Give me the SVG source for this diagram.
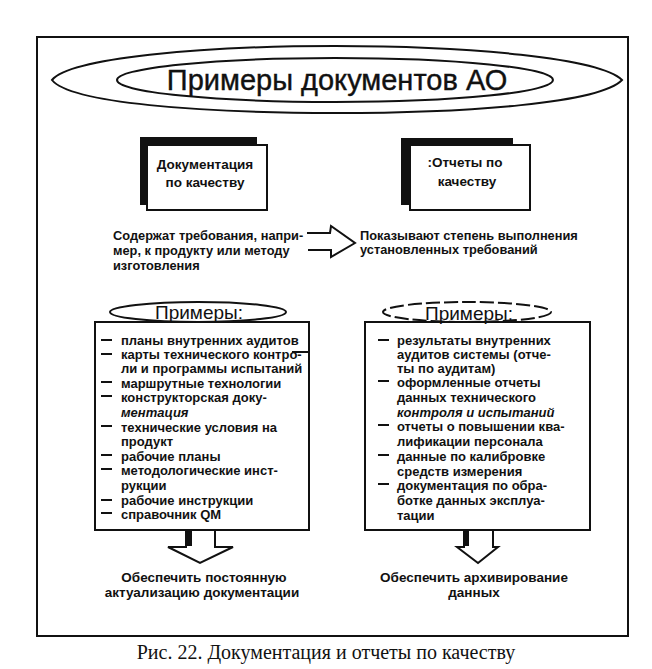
<svg xmlns="http://www.w3.org/2000/svg" width="652" height="669" viewBox="0 0 652 669">
<style>
.t{font-family:"Liberation Sans",Arial,sans-serif;font-weight:bold;font-size:13px;fill:#111}
.m{font-size:12.8px}
.b{font-size:13.5px}
.c{text-anchor:middle}
.ln{stroke:#111;fill:none;stroke-width:2}
.box{fill:#fff;stroke:#111;stroke-width:2}
.it{font-style:italic}
.h{font-family:"Liberation Sans",Arial,sans-serif;font-size:19px;fill:#111;text-anchor:middle}
</style>
<rect x="0" y="0" width="652" height="669" fill="#fff"/>
<g id="frame">
<rect x="37" y="37" width="591" height="599" class="ln"/>
</g>
<g id="title">
<path d="M52,80 C70,58 200,46 335,46 C470,46 600,58 622,80 C600,103 470,113 335,113 C200,113 70,103 52,80 Z" class="ln" stroke-width="3"/>
<ellipse cx="335" cy="80" rx="218" ry="22" class="ln" stroke-width="2.5"/>
<text x="337" y="90" class="c" style="font-family:'Liberation Sans',Arial,sans-serif;font-size:29px;fill:#111;stroke:#111;stroke-width:0.4">Примеры документов АО</text>
</g>
<g id="doc-box">
<rect x="140" y="137" width="117" height="68" fill="#111"/>
<rect x="147" y="145" width="120" height="65" class="box"/>
<text x="205" y="169" class="t b c">Документация</text>
<text x="205" y="187" class="t b c">по качеству</text>
</g>
<g id="report-box">
<rect x="401" y="138" width="112" height="67" fill="#111"/>
<rect x="410" y="145" width="120" height="65" class="box"/>
<text x="465" y="167" class="t b c">:Отчеты по</text>
<text x="467" y="186" class="t b c">качеству</text>
</g>
<g id="doc-desc">
<text x="113" y="240" class="t m">Содержат требования, напри-</text>
<text x="113" y="255" class="t m">мер, к продукту или методу</text>
<text x="113" y="270" class="t m">изготовления</text>
</g>
<g id="report-desc">
<text x="360" y="240" class="t m">Показывают степень выполнения</text>
<text x="360" y="254" class="t m">установленных требований</text>
</g>
<g id="doc-examples">
<rect x="95" y="322" width="214" height="208" class="box"/>
<ellipse cx="198" cy="312" rx="88" ry="10" class="ln" stroke-width="1.8"/>
<text x="199" y="319" class="h">Примеры:</text>
<g class="ln">
<path d="M101,340H112M101,354H112M101,382H112M101,396H112M101,426H112M101,455H112M101,469H112M101,500H112M101,513H112M292,352L309,352"/>
</g>
<text x="121" y="345" class="t">планы внутренних аудитов</text>
<text x="121" y="359" class="t">карты технического контро-</text>
<text x="121" y="373" class="t">ли и программы испытаний</text>
<text x="121" y="388" class="t">маршрутные технологии</text>
<text x="121" y="402" class="t">конструкторская доку-</text>
<text x="121" y="417" class="t it">ментация</text>
<text x="121" y="432" class="t">технические условия на</text>
<text x="121" y="446" class="t">продукт</text>
<text x="121" y="461" class="t">рабочие планы</text>
<text x="121" y="475" class="t">методологические инст-</text>
<text x="121" y="490" class="t">рукции</text>
<text x="121" y="505" class="t">рабочие инструкции</text>
<text x="121" y="519" class="t">справочник QM</text>
</g>
<g id="report-examples">
<rect x="365" y="322" width="225" height="208" class="box"/>
<ellipse cx="467" cy="312" rx="84" ry="10" class="ln" stroke-width="1.8" stroke-dasharray="14 4"/>
<text x="469" y="320" class="h">Примеры:</text>
<g class="ln">
<path d="M378,340H389M378,381H389M378,425H389M378,455H389M378,484H389"/>
</g>
<text x="397" y="345" class="t">результаты внутренних</text>
<text x="397" y="359" class="t">аудитов системы (отче-</text>
<text x="397" y="373" class="t">ты по аудитам)</text>
<text x="397" y="387" class="t">оформленные отчеты</text>
<text x="397" y="402" class="t">данных технического</text>
<text x="397" y="417" class="t it">контроля и испытаний</text>
<text x="397" y="431" class="t">отчеты о повышении ква-</text>
<text x="397" y="446" class="t">лификации персонала</text>
<text x="397" y="461" class="t">данные по калибровке</text>
<text x="397" y="476" class="t">средств измерения</text>
<text x="397" y="490" class="t">документация по обра-</text>
<text x="397" y="505" class="t">ботке данных эксплуа-</text>
<text x="397" y="520" class="t">тации</text>
</g>
<g id="connectors">
<path d="M307,233 L330,233 L331,226 L355,243 L331,257 L331,250 L308,250" class="ln" stroke-width="2.5"/>
<path d="M186,530 L186,547 L168,547 L200,563 L233,547 L215,547 L215,530" class="ln" stroke-width="2.5"/>
<rect x="186" y="531" width="6" height="15" fill="#111"/>
<path d="M464,530 L464,547 L457,547 L478,563 L498,547 L493,547 L493,530" class="ln" stroke-width="2.5"/>
<rect x="464" y="531" width="5" height="15" fill="#111"/>
</g>
<g id="outcomes">
<text x="204" y="582" class="t b c">Обеспечить постоянную</text>
<text x="202" y="597" class="t b c">актуализацию документации</text>
<text x="474" y="582" class="t b c">Обеспечить архивирование</text>
<text x="474" y="597" class="t b c">данных</text>
</g>
<text x="326" y="659" class="c" style="font-family:'Liberation Serif','Times New Roman',serif;font-size:20px;fill:#111">Рис. 22. Документация и отчеты по качеству</text>
</svg>
